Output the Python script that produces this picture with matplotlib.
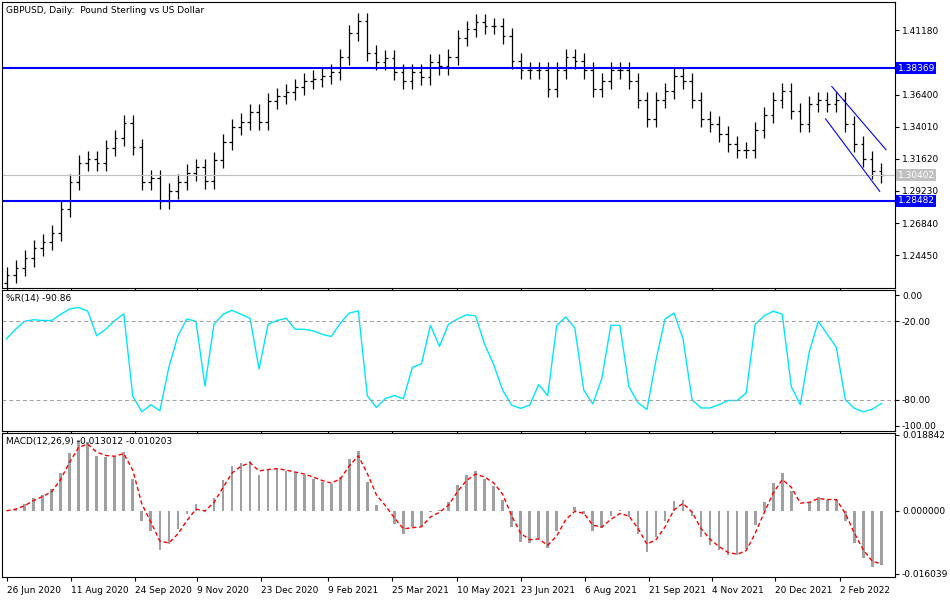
import matplotlib
matplotlib.use("Agg")
import matplotlib.pyplot as plt
import numpy as np
import pandas as pd

# closes (one bar ~ 4.5 trading days)
closes = [1.2300,1.2350,1.2420,1.2500,1.2540,1.2610,1.2790,1.2990,1.3130,1.3160,1.3130,1.3240,
          1.3320,1.3430,1.3250,1.2990,1.3020,1.2850,1.2920,1.2990,1.3060,1.3100,1.3000,1.3150,
          1.3290,1.3400,1.3440,1.3510,1.3440,1.3590,1.3630,1.3660,1.3700,1.3740,1.3760,1.3780,
          1.3810,1.3920,1.4100,1.4190,1.3950,1.3880,1.3910,1.3810,1.3740,1.3810,1.3770,1.3880,
          1.3850,1.3920,1.4060,1.4130,1.4180,1.4150,1.4150,1.4080,1.3890,1.3820,1.3820,1.3820,
          1.3680,1.3820,1.3920,1.3890,1.3820,1.3680,1.3740,1.3820,1.3820,1.3740,1.3600,1.3460,
          1.3600,1.3670,1.3780,1.3740,1.3600,1.3460,1.3420,1.3350,1.3270,1.3230,1.3230,1.3380,
          1.3490,1.3600,1.3670,1.3520,1.3420,1.3570,1.3600,1.3570,1.3600,1.3420,1.3270,1.3160,
          1.3070,1.3040]
tick_labels = ["26 Jun 2020","11 Aug 2020","24 Sep 2020","9 Nov 2020","23 Dec 2020","9 Feb 2021",
               "25 Mar 2021","10 May 2021","23 Jun 2021","6 Aug 2021","21 Sep 2021","4 Nov 2021",
               "20 Dec 2021","2 Feb 2022"]
tick_pos = [0, 7.2, 14.2, 21.1, 28.2, 35.6, 42.7, 49.9, 57.0, 64.1, 71.2, 78.2, 85.2, 92.4]
price_ticks = [1.41180,1.36400,1.34010,1.31620,1.29230,1.26840,1.24450]
res_hi, res_lo, last_px = 1.38369, 1.28482, 1.30402

c = np.array(closes)
n = len(c)
o = np.r_[c[0] - 0.006, c[:-1]]
hi = np.maximum(o, c) + 0.006
lo = np.minimum(o, c) - 0.006
x = np.arange(n)

s = pd.Series(c)
hh = pd.Series(hi).rolling(3, min_periods=1).max()
ll = pd.Series(lo).rolling(3, min_periods=1).min()
wr = -100 * (hh - s) / (hh - ll)
macd = s.ewm(span=3).mean() - s.ewm(span=6).mean()
sig = macd.ewm(span=2).mean()

fig = plt.figure(figsize=(9.5, 6), dpi=100)
W = 950; H = 600
def ax_at(top, bot):
    return fig.add_axes([2/W, 1 - bot/H, 893/W, (bot - top)/H])
a1 = ax_at(2, 288); a2 = ax_at(290, 431); a3 = ax_at(433, 577)
for a in (a1, a2, a3):
    a.set_xlim(-0.5, n + 0.5)
    a.yaxis.tick_right()
    a.tick_params(axis='y', labelsize=6.5, length=3, pad=2)
    a.tick_params(axis='x', labelsize=6.5, length=3)
    for sp in a.spines.values():
        sp.set_linewidth(0.8)
    a.set_xticks(tick_pos)
    a.set_xticklabels([])

a1.vlines(x, lo, hi, color='black', lw=0.9)
a1.hlines(o, x - 0.3, x, color='black', lw=0.9)
a1.hlines(c, x, x + 0.3, color='black', lw=0.9)
a1.axhline(res_hi, color='#0000ff', lw=1.5)
a1.axhline(res_lo, color='#0000ff', lw=1.5)
a1.axhline(last_px, color='#c0c0c0', lw=0.8)
a1.plot([91.5, 97.5], [1.3700, 1.3230], color='#0000ff', lw=0.8)
a1.plot([90.8, 96.8], [1.3460, 1.2920], color='#0000ff', lw=0.8)
a1.set_ylim(1.2200, 1.4330)
a1.set_yticks(price_ticks)
a1.set_yticklabels([f"{v:.5f}" for v in price_ticks])
for v, fc, tc in [(res_hi, '#0000ff', 'white'), (res_lo, '#0000ff', 'white'), (last_px, '#c0c0c0', 'white')]:
    a1.text(1.003, v, f"{v:.5f}", transform=a1.get_yaxis_transform(), fontsize=6.5, color=tc,
            va='center', ha='left', bbox=dict(boxstyle='square,pad=0.15', fc=fc, ec='none'))
a1.text(0.004, 0.985, "GBPUSD, Daily:  Pound Sterling vs US Dollar", transform=a1.transAxes,
        fontsize=6.5, va='top')

a2.plot(x, wr, color='#00e5ff', lw=1)
a2.axhline(-20, color='#a0a0a0', lw=0.7, ls=(0, (4, 3)))
a2.axhline(-80, color='#a0a0a0', lw=0.7, ls=(0, (4, 3)))
a2.set_ylim(-104, 4)
a2.set_yticks([0, -20, -80, -100])
a2.set_yticklabels(["0.00", "-20.00", "-80.00", "-100.00"])
a2.text(0.004, 0.97, "%R(14) -90.86", transform=a2.transAxes, fontsize=6.5, va='top')

a3.bar(x, macd, width=0.3, color='#a0a0a0')
a3.plot(x, sig, color='red', lw=1, ls=(0, (3, 2)))
m = max(abs(macd).max(), abs(sig).max()) * 1.1
a3.set_ylim(-m * 0.016039 / 0.018842, m)
a3.set_yticks([m * 0.98, 0, -m * 0.016039 / 0.018842 * 0.95])
a3.set_yticklabels(["0.018842", "0.000000", "-0.016039"])
a3.text(0.004, 0.97, "MACD(12,26,9) -0.013012 -0.010203", transform=a3.transAxes, fontsize=6.5, va='top')
a3.set_xticklabels(tick_labels, ha='left')

fig.savefig("out.png", dpi=100)
